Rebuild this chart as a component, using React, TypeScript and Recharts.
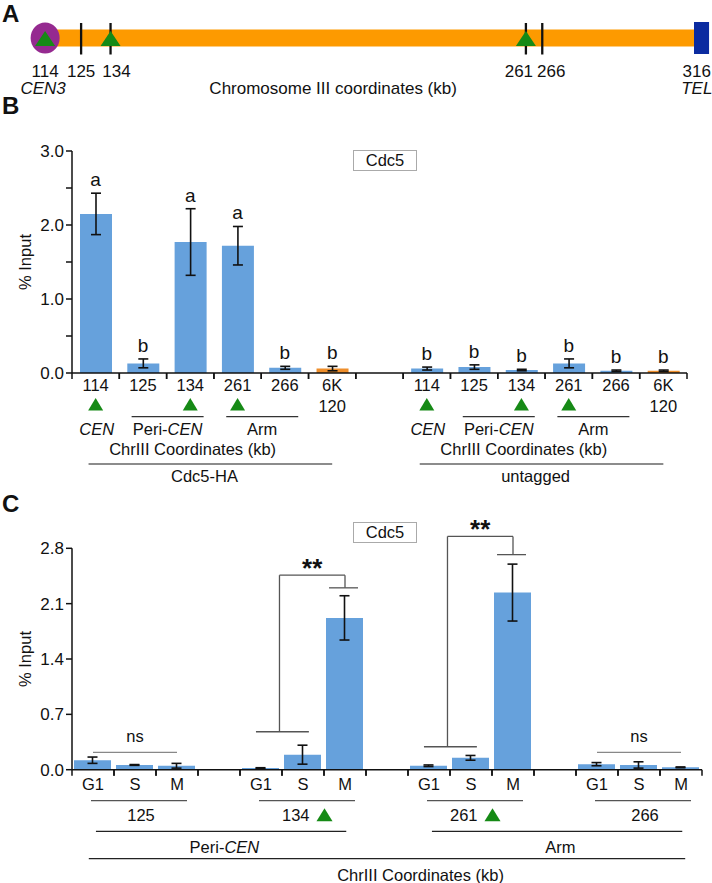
import React from "react";
import {
  ComposedChart,
  Bar,
  Line,
  Scatter,
  XAxis,
  YAxis,
  ErrorBar,
  Cell,
  LabelList,
  ReferenceLine,
  ReferenceArea,
  ReferenceDot,
} from "recharts";

const FONT = "Arial, 'Liberation Sans', Helvetica, sans-serif";
const INK = "#111";
const BAR_BLUE = "#66A1DC";
const BAR_ORANGE = "#EE8E2B";
const TRI_GREEN = "#168A16";
const MAP_ORANGE = "#FD9A00";
const CEN_PURPLE = "#952A90";
const TEL_BLUE = "#0B2BA0";

// A: chromosome III map (kb)
const mapTicks = [114, 125, 134, 261, 266, 316];
const mapTickNudge = [0, 0, 6, -7, 9, -9];
const mapCutSites = [125, 134, 261, 266];
const mapCenSites = [114, 134, 261];
const CEN_KB = 114;
const TEL_KB = 316;

// B: Cdc5 ChIP along chrIII
const sitesB = ["114", "125", "134", "261", "266", "6K 120"];
const cdc5HA = [2.15, 0.13, 1.77, 1.72, 0.07, 0.06];
const cdc5HAErr = [0.28, 0.06, 0.45, 0.26, 0.02, 0.03];
const cdc5HASig = ["a", "b", "a", "a", "b", "b"];
const untaggedVals = [0.06, 0.08, 0.04, 0.13, 0.03, 0.03];
const untaggedErr = [0.02, 0.03, 0.01, 0.06, 0.01, 0.01];
const untaggedSig = ["b", "b", "b", "b", "b", "b"];
const groupsB = ["Cdc5-HA", "untagged"];
const regionsB = [
  { name: "CEN", from: 0, to: 0 },
  { name: "Peri-CEN", from: 1, to: 2 },
  { name: "Arm", from: 3, to: 4 },
];
const cenSites = ["114", "134", "261"];
const controlSite = "6K 120";
const yTicksB = [0, 0.5, 1, 1.5, 2, 2.5, 3];

// C: cell-cycle stages
const phases = ["G1", "S", "M"];
const sitesC = ["125", "134", "261", "266"];
const site125 = [0.12, 0.06, 0.05];
const site125Err = [0.04, 0.005, 0.03];
const site134 = [0.02, 0.19, 1.92];
const site134Err = [0.005, 0.12, 0.28];
const site261 = [0.05, 0.15, 2.24];
const site261Err = [0.01, 0.03, 0.36];
const site266 = [0.07, 0.06, 0.03];
const site266Err = [0.02, 0.04, 0.005];
const regionsC = [
  { name: "Peri-CEN", sites: ["125", "134"] },
  { name: "Arm", sites: ["261", "266"] },
];
const yTicksC = [0, 0.7, 1.4, 2.1, 2.8];
const nsSites = ["125", "266"];
const starBrackets = [
  { site: "134", low: 0.48, high: 2.46, cap: 2.3 },
  { site: "261", low: 0.29, high: 2.95, cap: 2.72 },
];

// ---- derived rows ----
const STRIDE_B = sitesB.length + 1;
const valsB = [cdc5HA, untaggedVals];
const errsB = [cdc5HAErr, untaggedErr];
const sigsB = [cdc5HASig, untaggedSig];
const rowsB = groupsB.flatMap((group, g) =>
  sitesB.map((site, i) => ({
    x: g * STRIDE_B + i,
    site,
    group,
    value: valsB[g][i],
    err: errsB[g][i],
    top: valsB[g][i] + errsB[g][i],
    sig: sigsB[g][i],
  }))
);
const slotTicksB = Array.from({ length: STRIDE_B * groupsB.length - 1 }, (_, i) => i);

const STRIDE_C = phases.length + 1;
const valsC = [site125, site134, site261, site266];
const errsC = [site125Err, site134Err, site261Err, site266Err];
const rowsC = sitesC.flatMap((site, k) =>
  phases.map((phase, j) => ({
    x: k * STRIDE_C + j,
    site,
    phase,
    value: valsC[k][j],
    err: errsC[k][j],
  }))
);
const slotTicksC = Array.from({ length: STRIDE_C * sitesC.length - 1 }, (_, i) => i);

const B_LEFT = 72;
const B_RIGHT = 25;
const B_SLOT = (712 - B_LEFT - B_RIGHT) / slotTicksB.length;
const C_LEFT = 72;
const C_RIGHT = 10;
const C_SLOT = (712 - C_LEFT - C_RIGHT) / slotTicksC.length;

function withItalicCEN(name: string) {
  return name
    .split(/(CEN)/)
    .filter(Boolean)
    .map((part, i) => (
      <tspan key={i} fontStyle={part === "CEN" ? "italic" : "normal"}>
        {part}
      </tspan>
    ));
}

function Triangle({ cx, top, w, h }: { cx: number; top: number; w: number; h: number }) {
  return (
    <polygon
      points={`${cx},${top} ${cx - w / 2},${top + h} ${cx + w / 2},${top + h}`}
      fill={TRI_GREEN}
    />
  );
}

function MapTick({ x, y, payload }: any) {
  const kb = payload.value;
  const nudge = mapTickNudge[mapTicks.indexOf(kb)] || 0;
  return (
    <g fontFamily={FONT} fontSize={17} fill={INK}>
      <text x={x + nudge} y={y + 16.7} textAnchor="middle">
        {kb}
      </text>
      {kb === CEN_KB && (
        <>
          <text x={x - 2} y={y + 34} textAnchor="middle" fontStyle="italic">
            CEN3
          </text>
          <text x={x + 288} y={y + 34} textAnchor="middle">
            Chromosome III coordinates (kb)
          </text>
        </>
      )}
      {kb === TEL_KB && (
        <text x={x - 9} y={y + 34} textAnchor="middle" fontStyle="italic">
          TEL
        </text>
      )}
    </g>
  );
}

function ChromosomeMap() {
  const sites = mapCenSites.map((kb) => ({ kb, y: 0 }));
  return (
    <ComposedChart width={712} height={100} margin={{ top: 0, right: 0, bottom: 0, left: 0 }}>
      <XAxis
        type="number"
        dataKey="kb"
        domain={[100.2, 317.9]}
        ticks={mapTicks}
        interval={0}
        height={40}
        tickSize={0}
        tickMargin={0}
        axisLine={false}
        tickLine={false}
        tick={<MapTick />}
        allowDataOverflow
      />
      <YAxis type="number" dataKey="y" domain={[-22, 38]} hide width={0} allowDataOverflow />
      <ReferenceArea x1={CEN_KB} x2={TEL_KB - 3} y1={-8.5} y2={8.5} fill={MAP_ORANGE} fillOpacity={1} stroke="none" ifOverflow="visible" />
      <ReferenceArea x1={TEL_KB - 3.6} x2={TEL_KB + 1} y1={-16} y2={16} fill={TEL_BLUE} fillOpacity={1} stroke="none" ifOverflow="visible" />
      {mapCutSites.map((kb) => (
        <ReferenceLine
          key={kb}
          segment={[
            { x: kb, y: -16.5 },
            { x: kb, y: 15 },
          ]}
          stroke={INK}
          strokeWidth={2.3}
          ifOverflow="visible"
        />
      ))}
      <ReferenceDot
        x={CEN_KB}
        y={0}
        r={15}
        ifOverflow="visible"
        shape={(p: any) => <ellipse cx={p.cx} cy={p.cy} rx={14.5} ry={15.5} fill={CEN_PURPLE} />}
      />
      <Scatter
        data={sites}
        dataKey="y"
        isAnimationActive={false}
        shape={(p: any) => <Triangle cx={p.cx} top={p.cy - 7} w={20} h={15} />}
      />
    </ComposedChart>
  );
}

function GroupNotesB({ x0, y, group }: { x0: number; y: number; group: string }) {
  const S = B_SLOT;
  return (
    <g>
      {regionsB.map((r) => {
        const mid = x0 + ((r.from + r.to) / 2) * S;
        return (
          <g key={r.name}>
            {r.to > r.from && (
              <line x1={mid - 35} x2={mid + 37} y1={y + 43.7} y2={y + 43.7} stroke="#333" strokeWidth={1.3} />
            )}
            <text x={mid + 1} y={y + 62} textAnchor="middle">
              {withItalicCEN(r.name)}
            </text>
          </g>
        );
      })}
      <text x={x0 + 2.05 * S} y={y + 82} textAnchor="middle">
        ChrIII Coordinates (kb)
      </text>
      <line x1={x0 - 0.15 * S} x2={x0 + 5 * S} y1={y + 91} y2={y + 91} stroke="#8c8c8c" strokeWidth={2} />
      <text x={x0 + 2.3 * S} y={y + 108.7} textAnchor="middle">
        {group}
      </text>
    </g>
  );
}

function SiteTickB({ x, y, payload }: any) {
  const row = rowsB.find((r) => r.x === payload.value);
  const h = B_SLOT / 2;
  return (
    <g fontFamily={FONT} fontSize={16.5} fill={INK}>
      <line x1={x - h} x2={x - h} y1={y} y2={y + 6} stroke={INK} strokeWidth={1.5} />
      <line x1={x + h} x2={x + h} y1={y} y2={y + 6} stroke={INK} strokeWidth={1.5} />
      {row &&
        row.site.split(" ").map((t, k) => (
          <text key={k} x={x} y={y + 17.7 + k * 21} textAnchor="middle">
            {t}
          </text>
        ))}
      {row && cenSites.includes(row.site) && <Triangle cx={x} top={y + 25} w={15} h={12.5} />}
      {row && row.x % STRIDE_B === 0 && <GroupNotesB x0={x} y={y} group={row.group} />}
    </g>
  );
}

function PanelB() {
  return (
    <ComposedChart width={712} height={400} data={rowsB} margin={{ top: 51, right: B_RIGHT, bottom: 0, left: 0 }}>
      <XAxis
        type="number"
        dataKey="x"
        domain={[-0.5, slotTicksB.length - 0.5]}
        ticks={slotTicksB}
        interval={0}
        height={127}
        tickSize={0}
        tickMargin={0}
        tickLine={false}
        axisLine={{ stroke: INK, strokeWidth: 1.5 }}
        tick={<SiteTickB />}
      />
      <YAxis
        type="number"
        domain={[0, 3]}
        ticks={yTicksB}
        interval={0}
        width={B_LEFT}
        tickSize={6}
        tickMargin={2}
        tickFormatter={(v: number) => (Number.isInteger(v) ? v.toFixed(1) : "")}
        tick={{ fill: INK, fontSize: 17, fontFamily: FONT }}
        axisLine={{ stroke: INK, strokeWidth: 1.5 }}
        tickLine={{ stroke: INK, strokeWidth: 1.5 }}
      />
      <Bar dataKey="value" barSize={32} isAnimationActive={false}>
        {rowsB.map((r) => (
          <Cell key={r.x} fill={r.site === controlSite ? BAR_ORANGE : BAR_BLUE} />
        ))}
        <ErrorBar dataKey="err" width={5} stroke={INK} strokeWidth={1.6} direction="y" />
      </Bar>
      <Line dataKey="top" stroke="none" dot={false} activeDot={false} isAnimationActive={false}>
        <LabelList dataKey="sig" position="top" offset={7} fontSize={19} fill={INK} fontFamily={FONT} />
      </Line>
    </ComposedChart>
  );
}

function SiteNotesC({ x0, y, site }: { x0: number; y: number; site: string }) {
  const S = C_SLOT;
  const mid = x0 + S;
  return (
    <g>
      <line x1={x0 - 2} x2={x0 + 2 * S + 10} y1={y + 31} y2={y + 31} stroke="#555" strokeWidth={1.3} />
      {cenSites.includes(site) ? (
        <>
          <text x={mid + 6.5} y={y + 51.6} textAnchor="end">
            {site}
          </text>
          <Triangle cx={mid + 21.5} top={y + 38.5} w={16} h={13} />
        </>
      ) : (
        <text x={mid + 6} y={y + 51.6} textAnchor="middle">
          {site}
        </text>
      )}
    </g>
  );
}

function RegionNotesC({ x0, y }: { x0: number; y: number }) {
  const S = C_SLOT;
  return (
    <g>
      {regionsC.map((r) => {
        const first = sitesC.indexOf(r.sites[0]) * STRIDE_C;
        const last = sitesC.indexOf(r.sites[r.sites.length - 1]) * STRIDE_C + phases.length - 1;
        return (
          <g key={r.name}>
            <line x1={x0 + (first + 0.07) * S} x2={x0 + (last + 0.03) * S} y1={y + 61.6} y2={y + 61.6} stroke="#222" strokeWidth={1.3} />
            <text x={x0 + ((first + last) / 2 + 0.13) * S} y={y + 83.3} textAnchor="middle">
              {withItalicCEN(r.name)}
            </text>
          </g>
        );
      })}
      <line x1={x0 - 0.1 * S} x2={x0 + 14.1 * S} y1={y + 89} y2={y + 89} stroke="#222" strokeWidth={1.3} />
      <text x={x0 + 7.8 * S} y={y + 111} textAnchor="middle">
        ChrIII Coordinates (kb)
      </text>
    </g>
  );
}

function PhaseTickC({ x, y, payload }: any) {
  const row = rowsC.find((r) => r.x === payload.value);
  const h = C_SLOT / 2;
  return (
    <g fontFamily={FONT} fontSize={16.5} fill={INK}>
      <line x1={x - h} x2={x - h} y1={y} y2={y + 6} stroke={INK} strokeWidth={1.5} />
      <line x1={x + h} x2={x + h} y1={y} y2={y + 6} stroke={INK} strokeWidth={1.5} />
      {row && (
        <text x={x} y={y + 20.6} textAnchor="middle">
          {row.phase}
        </text>
      )}
      {row && row.phase === phases[0] && <SiteNotesC x0={x} y={y} site={row.site} />}
      {payload.value === 0 && <RegionNotesC x0={x} y={y} />}
    </g>
  );
}

const bracketStroke = { stroke: "#555", strokeWidth: 1.3, ifOverflow: "visible" as const };

function PanelC() {
  return (
    <ComposedChart width={712} height={393} data={rowsC} margin={{ top: 58.3, right: C_RIGHT, bottom: 0, left: 0 }}>
      <XAxis
        type="number"
        dataKey="x"
        domain={[-0.5, slotTicksC.length - 0.5]}
        ticks={slotTicksC}
        interval={0}
        height={113.3}
        tickSize={0}
        tickMargin={0}
        tickLine={false}
        axisLine={{ stroke: INK, strokeWidth: 1.5 }}
        tick={<PhaseTickC />}
      />
      <YAxis
        type="number"
        domain={[0, 2.8]}
        ticks={yTicksC}
        interval={0}
        width={C_LEFT}
        tickSize={6}
        tickMargin={2}
        tickFormatter={(v: number) => v.toFixed(1)}
        tick={{ fill: INK, fontSize: 17, fontFamily: FONT }}
        axisLine={{ stroke: INK, strokeWidth: 1.5 }}
        tickLine={{ stroke: INK, strokeWidth: 1.5 }}
      />
      <Bar dataKey="value" fill={BAR_BLUE} barSize={37} isAnimationActive={false}>
        <ErrorBar dataKey="err" width={5} stroke={INK} strokeWidth={1.6} direction="y" />
      </Bar>
      {nsSites.map((site) => {
        const b = sitesC.indexOf(site) * STRIDE_C;
        return (
          <ReferenceLine
            key={"ns" + site}
            segment={[
              { x: b, y: 0.22 },
              { x: b + 2, y: 0.22 },
            ]}
            stroke="#888"
            strokeWidth={1.3}
            ifOverflow="visible"
            label={{ value: "ns", position: "top", offset: 10, fontSize: 16.5, fill: INK, fontFamily: FONT }}
          />
        );
      })}
      {starBrackets.flatMap((br) => {
        const b = sitesC.indexOf(br.site) * STRIDE_C;
        const v = b + 0.44;
        return [
          <ReferenceLine key={br.site + "lo"} segment={[{ x: b - 0.12, y: br.low }, { x: b + 1.14, y: br.low }]} {...bracketStroke} />,
          <ReferenceLine key={br.site + "up"} segment={[{ x: v, y: br.low }, { x: v, y: br.high }]} {...bracketStroke} />,
          <ReferenceLine
            key={br.site + "top"}
            segment={[{ x: v, y: br.high }, { x: b + 2, y: br.high }]}
            {...bracketStroke}
            label={{ value: "**", position: "top", offset: -2, fontSize: 26, fontWeight: 700, fill: INK, fontFamily: FONT }}
          />,
          <ReferenceLine key={br.site + "dn"} segment={[{ x: b + 2, y: br.high }, { x: b + 2, y: br.cap }]} {...bracketStroke} />,
          <ReferenceLine key={br.site + "cap"} segment={[{ x: b + 1.62, y: br.cap }, { x: b + 2.31, y: br.cap }]} {...bracketStroke} />,
        ];
      })}
    </ComposedChart>
  );
}

function PanelLetter({ letter, top }: { letter: string; top: number }) {
  return (
    <div style={{ position: "absolute", left: 2, top, fontSize: 24, fontWeight: 700, lineHeight: "24px", fontFamily: FONT }}>
      {letter}
    </div>
  );
}

function ProteinBox({ top }: { top: number }) {
  return (
    <div
      style={{
        position: "absolute",
        left: 353,
        top,
        width: 64,
        height: 21,
        boxSizing: "border-box",
        border: "1px solid #aaa",
        fontSize: 16.5,
        lineHeight: "19px",
        textAlign: "center",
        fontFamily: FONT,
        background: "#fff",
      }}
    >
      Cdc5
    </div>
  );
}

function YTitle({ cy }: { cy: number }) {
  return (
    <div
      style={{
        position: "absolute",
        left: 25 - 50,
        top: cy - 10,
        width: 100,
        height: 20,
        lineHeight: "20px",
        textAlign: "center",
        fontSize: 16.5,
        fontFamily: FONT,
        transform: "rotate(-90deg)",
      }}
    >
      % Input
    </div>
  );
}

export default function App() {
  return (
    <div style={{ position: "absolute", left: 0, top: 0, width: 712, height: 883, background: "#fff", color: INK, overflow: "hidden" }}>
      <div style={{ position: "absolute", left: 0, top: 0 }}>
        <ChromosomeMap />
      </div>
      <div style={{ position: "absolute", left: 0, top: 100 }}>
        <PanelB />
      </div>
      <div style={{ position: "absolute", left: 0, top: 490 }}>
        <PanelC />
      </div>
      <PanelLetter letter="A" top={2} />
      <PanelLetter letter="B" top={94} />
      <PanelLetter letter="C" top={492} />
      <ProteinBox top={150} />
      <ProteinBox top={521.7} />
      <YTitle cy={262} />
      <YTitle cy={659} />
    </div>
  );
}
